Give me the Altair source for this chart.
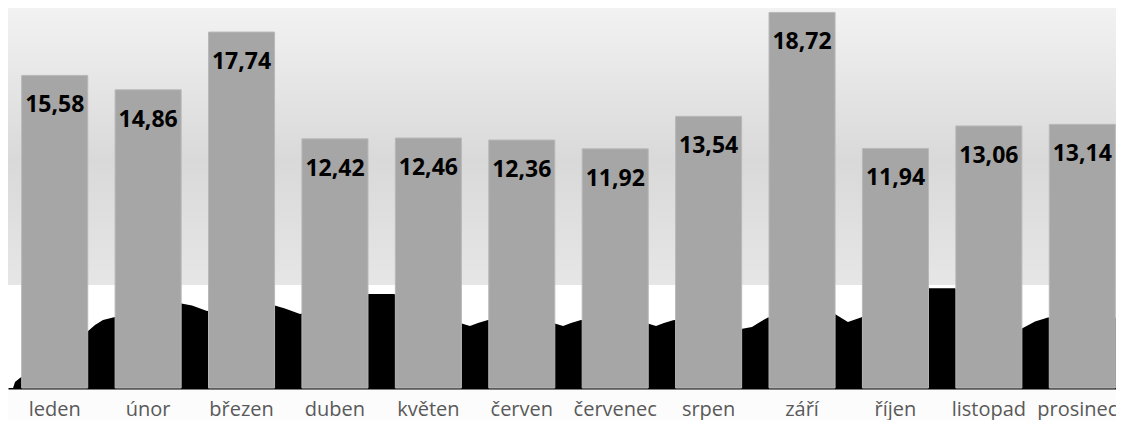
import altair as alt
import pandas as pd

months = ["leden", "únor", "březen", "duben", "květen", "červen",
          "červenec", "srpen", "září", "říjen", "listopad", "prosinec"]
values = [15.58, 14.86, 17.74, 12.42, 12.46, 12.36, 11.92, 13.54, 18.72, 11.94, 13.06, 13.14]
value_labels = ["15,58", "14,86", "17,74", "12,42", "12,46", "12,36",
                "11,92", "13,54", "18,72", "11,94", "13,06", "13,14"]

# black background area (position in month-index units, value in bar units)
area_pos = [-0.446, -0.425, -0.372, 0.346, 0.431, 0.517, 0.624,
            1.341, 1.470, 1.630, 2.337, 2.465, 2.626, 3.343, 3.632,
            4.349, 4.445, 4.531, 4.638, 5.345, 5.442, 5.527, 5.634,
            6.340, 6.437, 6.522, 6.629, 7.346, 7.464, 7.550, 7.635,
            8.352, 8.491, 8.630, 9.348, 9.637, 10.344, 10.494, 10.633,
            11.350, 11.446, 11.5]
area_val = [0.0, 0.3, 0.5, 2.79, 3.14, 3.39, 3.52,
            4.22, 4.11, 3.84, 4.14, 3.96, 3.69, 4.69, 4.69,
            3.23, 3.09, 3.24, 3.39, 3.23, 3.09, 3.24, 3.39,
            3.23, 3.09, 3.24, 3.39, 2.94, 3.04, 3.29, 3.52,
            3.69, 3.29, 3.52, 4.97, 4.97, 2.94, 3.31, 3.52,
            3.52, 3.26, 3.2]

white_top = 5.13
y_max = 18.94

W, H = 1108, 380
RANGE = 1121  # x scales span slightly past the visible plot, as in the original

bars_df = pd.DataFrame({"month": months, "value": values, "label": value_labels})
area_df = pd.DataFrame({"pos": area_pos, "val": area_val})
bg_df = pd.DataFrame({"y": [y_max], "y2": [white_top]})
white_df = pd.DataFrame({"y": [white_top], "y2": [0]})

yscale = alt.Scale(domain=[0, y_max], nice=False, zero=True)
xband = alt.Scale(paddingInner=0.293, paddingOuter=0.1465, range=[0, RANGE])

grad = alt.Gradient(
    gradient="linear",
    stops=[alt.GradientStop(color="#f2f2f2", offset=0),
           alt.GradientStop(color="#d9d9d9", offset=0.55),
           alt.GradientStop(color="#e6e6e6", offset=1)],
    x1=0, x2=0, y1=0, y2=1,
)

xaxis = alt.Axis(title=None, orient="bottom", labelAngle=0, ticks=False, domain=True,
                 domainColor="black", domainWidth=2, grid=False,
                 labelFont="Open Sans", labelFontSize=20,
                 labelColor="#595959", labelPadding=27,
                 labelBaseline="alphabetic",
                 labelOffset={"condition": {"test": "datum.value === 'prosinec'", "value": -5},
                              "value": 0})

bg = alt.Chart(bg_df).mark_rect(fill=grad).encode(
    x=alt.value(0), x2=alt.value(RANGE),
    y=alt.Y("y:Q", scale=yscale, axis=None), y2="y2:Q",
)
white = alt.Chart(white_df).mark_rect(fill="white").encode(
    x=alt.value(0), x2=alt.value(RANGE),
    y=alt.Y("y:Q", scale=yscale, axis=None), y2="y2:Q",
)
area = alt.Chart(area_df).mark_area(color="black", interpolate="linear").encode(
    x=alt.X("pos:Q", scale=alt.Scale(domain=[-0.5, 11.5], nice=False, zero=False,
                                     range=[0, RANGE]), axis=None),
    y=alt.Y("val:Q", scale=yscale, axis=None),
)
bars = alt.Chart(bars_df).mark_bar(color="#a6a6a6", stroke="#b8b8b8", strokeWidth=1).encode(
    x=alt.X("month:N", sort=months, scale=xband, axis=xaxis),
    y=alt.Y("value:Q", scale=yscale, axis=None),
)
text = alt.Chart(bars_df).mark_text(
    font="Open Sans", fontWeight="bold", fontSize=23, color="black",
    baseline="alphabetic", dy=37,
).encode(
    x=alt.X("month:N", sort=months, scale=xband, axis=xaxis),
    y=alt.Y("value:Q", scale=yscale, axis=None),
    text="label:N",
)

chart = alt.layer(bg, white, area, alt.layer(bars, text)).resolve_scale(
    x="independent"
).properties(
    width=W, height=H,
    padding={"top": 0, "left": 0, "right": 0, "bottom": 32},
    background="#fcfcfc",
    autosize=alt.AutoSizeParams(type="none"),
).configure_view(stroke=None)

chart.save("out.html", embed_options={"renderer": "svg", "actions": False})
